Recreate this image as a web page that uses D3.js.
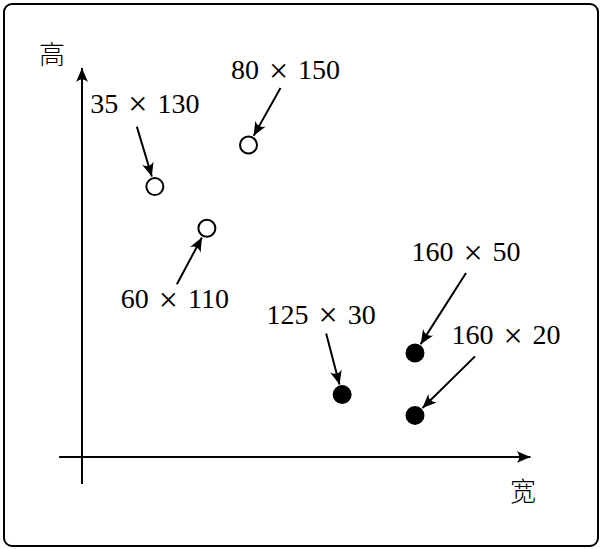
<!DOCTYPE html>
<html><head><meta charset="utf-8">
<script src="https://cdn.jsdelivr.net/npm/d3@7"></script>
<style>body{margin:0;background:#fff}svg{display:block}</style>
</head><body>
<svg id="c" width="604" height="549"></svg>
<script>
// ---- data ----
const widths  = [35, 80, 60, 125, 160, 160];
const heights = [130, 150, 110, 30, 50, 20];
const filled  = [false, false, false, true, true, true];
const xLabel = "宽";
const yLabel = "高";

// ---- layout (label / arrow offsets from each point, px) ----
const labelOff = [[-10,-74],[37,-66],[-32,80],[-21,-71],[51,-92],[91,-71]];
const tailOff  = [[-18,-60],[32,-57],[-30,56],[-16,-61],[51,-80],[60,-59]];

const svg = d3.select("#c");
const x = d3.scaleLinear().domain([0,160]).range([82,415]);
const y = d3.scaleLinear().domain([0,150]).range([457,145]);

const defs = svg.append("defs");
function marker(id, L, W){
  defs.append("marker").attr("id",id).attr("viewBox",`${-L} ${-W} ${L+1} ${2*W}`)
    .attr("refX",0).attr("refY",0).attr("markerUnits","userSpaceOnUse")
    .attr("markerWidth",L+1).attr("markerHeight",2*W).attr("orient","auto")
    .append("path").attr("d",`M0,0 L${-L},${-W} Q${-L*0.6},0 ${-L},${W} Z`).attr("fill","#000");
}
marker("ah",14,6);
marker("aa",14,6);

// frame
svg.append("rect").attr("x",4).attr("y",4).attr("width",594).attr("height",542)
  .attr("rx",8).attr("fill","none").attr("stroke","#000").attr("stroke-width",2);

// axes
svg.append("line").attr("x1",x(-11)).attr("x2",x(215.5)).attr("y1",y(0)).attr("y2",y(0))
  .attr("stroke","#000").attr("stroke-width",2).attr("marker-end","url(#aa)");
svg.append("line").attr("x1",x(0)).attr("x2",x(0)).attr("y1",y(-13)).attr("y2",y(187))
  .attr("stroke","#000").attr("stroke-width",2).attr("marker-end","url(#aa)");

svg.append("text").attr("x",523).attr("y",501).attr("text-anchor","middle")
  .attr("font-family","'Noto Sans CJK SC'").attr("font-weight",300).attr("font-size",26).text(xLabel);
svg.append("text").attr("x",52).attr("y",64).attr("text-anchor","middle")
  .attr("font-family","'Noto Sans CJK SC'").attr("font-weight",300).attr("font-size",26).text(yLabel);

const r = 8.5;
const pts = widths.map((w,i)=>({w, h:heights[i], f:filled[i], px:x(w), py:y(heights[i]), lo:labelOff[i], to:tailOff[i]}));

// arrows
pts.forEach(p=>{
  const tx = p.px + p.to[0], ty = p.py + p.to[1];
  const dx = tx - p.px, dy = ty - p.py, d = Math.hypot(dx,dy);
  const ex = p.px + dx/d*(r+2), ey = p.py + dy/d*(r+2);
  svg.append("line").attr("x1",tx).attr("y1",ty).attr("x2",ex).attr("y2",ey)
    .attr("stroke","#000").attr("stroke-width",2).attr("marker-end","url(#ah)");
});

// points
svg.selectAll("circle.pt").data(pts).enter().append("circle")
  .attr("cx",d=>d.px).attr("cy",d=>d.py).attr("r",r)
  .attr("fill",d=>d.f?"#000":"#fff").attr("stroke","#000").attr("stroke-width",2);

// labels
pts.forEach(p=>{
  const t = svg.append("text").attr("x",p.px+p.lo[0]).attr("y",p.py+p.lo[1])
    .attr("text-anchor","middle").attr("font-family","'Liberation Serif'").attr("font-size",28).attr("fill","#000");
  t.append("tspan").text(p.w);
  t.append("tspan").attr("dx",10).attr("dy",2.5).attr("font-size",34).text("×");
  t.append("tspan").attr("dx",10).attr("dy",-2.5).text(p.h);
});
</script>
</body></html>
